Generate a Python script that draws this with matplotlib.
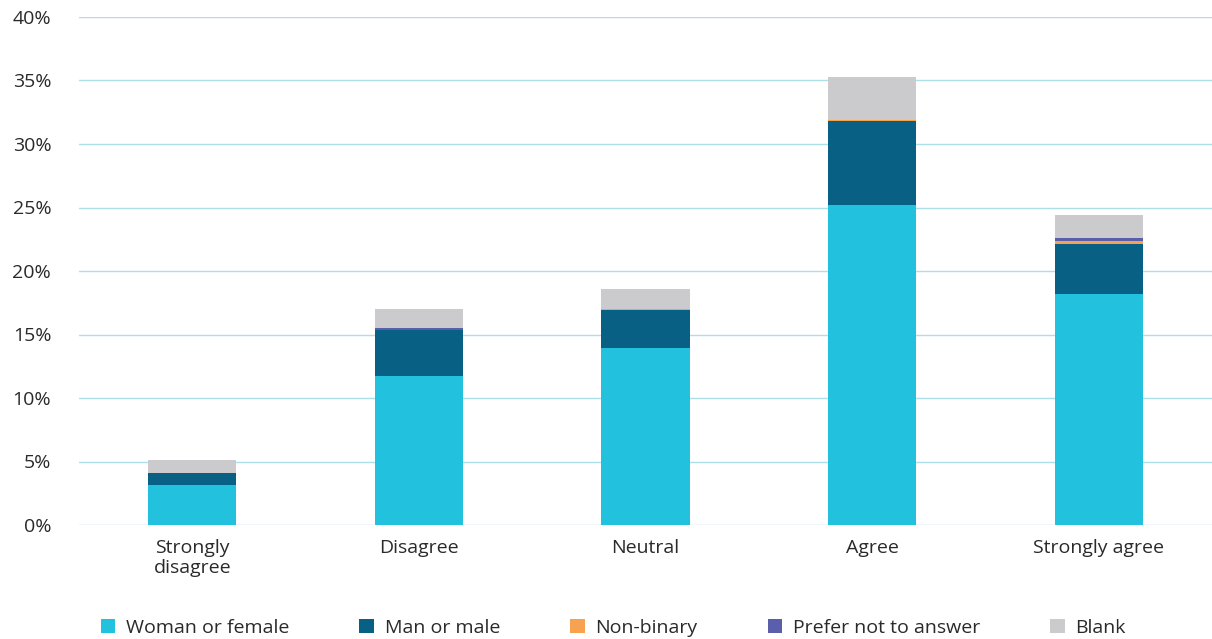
import matplotlib
matplotlib.use("Agg")
import matplotlib.pyplot as plt
from matplotlib.patches import Patch
import numpy as np

categories = ["Strongly\ndisagree", "Disagree", "Neutral", "Agree", "Strongly agree"]
woman = [3.15, 11.73, 13.94, 25.2, 18.19]
man = [0.95, 3.62, 2.99, 6.63, 3.94]
nonbinary = [0.0, 0.0, 0.05, 0.05, 0.26]
prefer_not = [0.0, 0.15, 0.0, 0.0, 0.21]
blank = [1.0, 1.5, 1.6, 3.4, 1.81]

series = [
    ("Woman or female", woman, "#22c1dd"),
    ("Man or male", man, "#086185"),
    ("Non-binary", nonbinary, "#f6a24f"),
    ("Prefer not to answer", prefer_not, "#5b5eab"),
    ("Blank", blank, "#cbcacc"),
]
yticks = [0, 5, 10, 15, 20, 25, 30, 35, 40]

plt.rcParams['font.family'] = ['Open Sans', 'DejaVu Sans']
fig = plt.figure(figsize=(12.12, 6.39), dpi=100)
ax = fig.add_axes([79/1212, 1 - 525/639, (1212 - 79)/1212, (525 - 17)/639])

x = np.arange(len(categories))
bottom = np.zeros(len(categories))
for name, vals, color in series:
    v = np.array(vals)
    ax.bar(x, v, bottom=bottom, width=0.39, color=color, zorder=3)
    bottom += v

ax.set_xlim(-0.5, 4.5)
ax.set_ylim(0, 40)
ax.set_yticks(yticks)
ax.set_yticklabels([f"{t}%" for t in yticks], fontsize=14, color="#2a2a2a")
ax.set_xticks(x)
ax.set_xticklabels(categories, fontsize=14, color="#2a2a2a", linespacing=1.15)
ax.tick_params(axis='x', length=0, pad=10)
ax.tick_params(axis='y', length=0, pad=20)
ax.grid(axis='y', color="#addfe8", linewidth=1.0, zorder=0)
for s in ax.spines.values():
    s.set_visible(False)

handles = [Patch(facecolor=c, edgecolor='none', label=n) for n, _, c in series]
fig.legend(handles=handles, loc='lower center', bbox_to_anchor=(0.506, -0.024), ncol=5,
           frameon=False, fontsize=14, handlelength=0.75, handleheight=0.75,
           handletextpad=0.55, columnspacing=3.6, labelcolor="#2a2a2a")

fig.savefig("out.png", dpi=100)
